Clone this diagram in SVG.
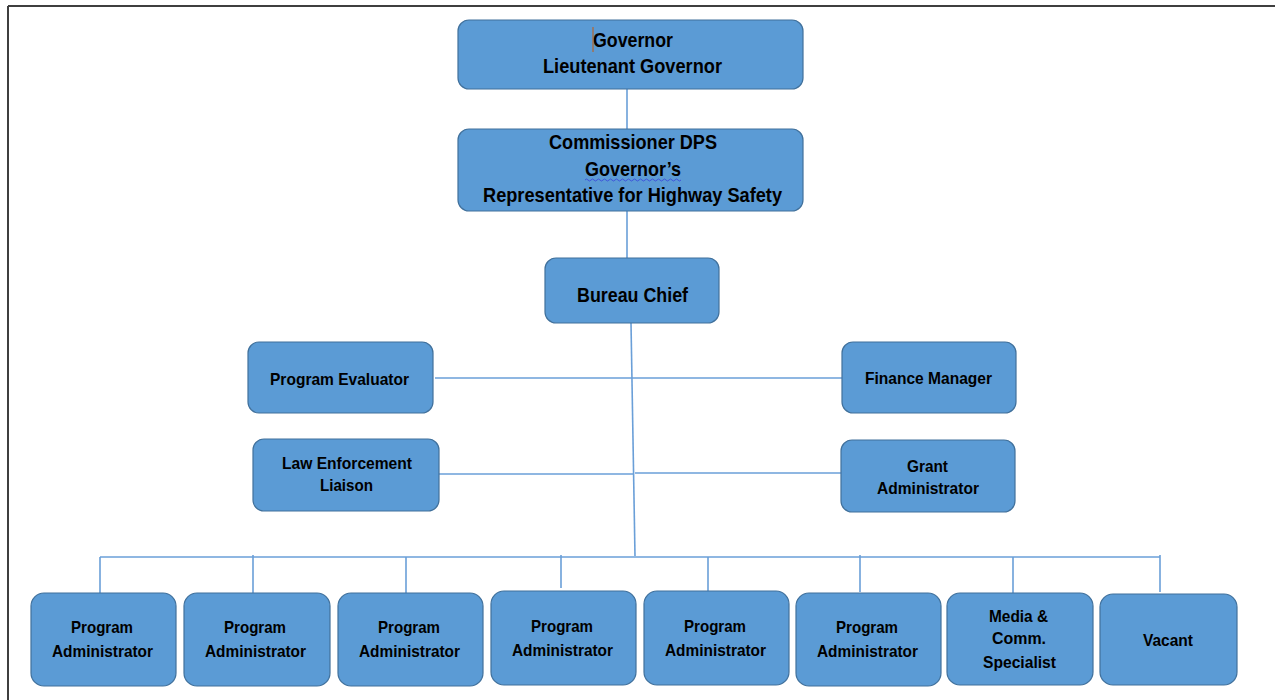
<svg xmlns="http://www.w3.org/2000/svg" width="1275" height="700" viewBox="0 0 1275 700">
<style>
.box{fill:#5B9BD5;stroke:#41719C;stroke-width:1.2}
.t{font-family:"Liberation Sans",Arial,sans-serif;font-weight:bold;fill:#000;text-anchor:middle}
.big{font-size:21px}
.sm{font-size:16.5px}
.c{stroke:#6A9FD8;stroke-width:1.6;fill:none}
</style>
<rect width="1275" height="700" fill="#fff"/>
<g id="frame">
<line x1="8" y1="6" x2="1275" y2="6" stroke="#3f3f3f" stroke-width="2"/>
<line x1="8" y1="6" x2="8" y2="700" stroke="#3f3f3f" stroke-width="2"/>
</g>
<g id="connectors">
<line class="c" x1="627" y1="89" x2="627" y2="129"/>
<line class="c" x1="627" y1="211" x2="627" y2="258"/>
<line class="c" x1="631" y1="323" x2="635" y2="556"/>
<line class="c" x1="435" y1="378" x2="842" y2="378"/>
<line class="c" x1="439" y1="474" x2="633" y2="474"/>
<line class="c" x1="635" y1="473" x2="841" y2="473"/>
<line class="c" x1="100" y1="557" x2="1160" y2="557"/>
<line class="c" x1="100" y1="557" x2="100" y2="593"/>
<line class="c" x1="253" y1="555" x2="253" y2="593"/>
<line class="c" x1="406" y1="557" x2="406" y2="593"/>
<line class="c" x1="561" y1="555" x2="561" y2="588"/>
<line class="c" x1="708" y1="557" x2="708" y2="591"/>
<line class="c" x1="860" y1="555" x2="860" y2="592"/>
<line class="c" x1="1013" y1="557" x2="1013" y2="593"/>
<line class="c" x1="1160" y1="555" x2="1160" y2="592"/>
</g>
<g id="governor">
<rect class="box" x="458" y="20" width="345" height="69" rx="11"/>
<text class="t big" x="633" y="47" textLength="80" lengthAdjust="spacingAndGlyphs">Governor</text>
<text class="t big" x="632.5" y="73" textLength="179" lengthAdjust="spacingAndGlyphs">Lieutenant Governor</text>
<line x1="593" y1="27" x2="593" y2="52" stroke="#C55A11" stroke-width="1"/>
</g>
<g id="commissioner">
<rect class="box" x="458" y="129" width="345" height="82" rx="11"/>
<text class="t big" x="633" y="149" textLength="168" lengthAdjust="spacingAndGlyphs">Commissioner DPS</text>
<text class="t big" x="633" y="176" textLength="96" lengthAdjust="spacingAndGlyphs">Governor’s</text>
<path d="M585 180 q1.5 -2 3 0 t3 0 t3 0 t3 0 t3 0 t3 0 t3 0 t3 0 t3 0 t3 0 t3 0 t3 0 t3 0 t3 0 t3 0 t3 0 t3 0 t3 0 t3 0 t3 0 t3 0 t3 0 t3 0 t3 0 t3 0 t3 0 t3 0 t3 0 t3 0 t3 0 t3 0 t3 0" fill="none" stroke="#3B4CD9" stroke-width="0.9"/>
<text class="t big" x="632.5" y="202" textLength="299" lengthAdjust="spacingAndGlyphs">Representative for Highway Safety</text>
</g>
<g id="bureau-chief">
<rect class="box" x="545" y="258" width="174" height="65" rx="11"/>
<text class="t big" x="632.5" y="302" textLength="111" lengthAdjust="spacingAndGlyphs">Bureau Chief</text>
</g>
<g id="program-evaluator">
<rect class="box" x="248" y="342" width="185" height="71" rx="11"/>
<text class="t sm" x="339.5" y="385" textLength="139" lengthAdjust="spacingAndGlyphs">Program Evaluator</text>
</g>
<g id="finance-manager">
<rect class="box" x="842" y="342" width="174" height="71" rx="11"/>
<text class="t sm" x="928.5" y="384" textLength="127" lengthAdjust="spacingAndGlyphs">Finance Manager</text>
</g>
<g id="law-enforcement-liaison">
<rect class="box" x="253" y="439" width="186" height="72" rx="11"/>
<text class="t sm" x="347" y="469" textLength="130" lengthAdjust="spacingAndGlyphs">Law Enforcement</text>
<text class="t sm" x="346.5" y="491" textLength="53" lengthAdjust="spacingAndGlyphs">Liaison</text>
</g>
<g id="grant-administrator">
<rect class="box" x="841" y="440" width="174" height="72" rx="11"/>
<text class="t sm" x="927.5" y="472" textLength="41" lengthAdjust="spacingAndGlyphs">Grant</text>
<text class="t sm" x="928" y="494" textLength="102" lengthAdjust="spacingAndGlyphs">Administrator</text>
</g>
<g id="pa1">
<rect class="box" x="31" y="593" width="145" height="93" rx="13"/>
<text class="t sm" x="102" y="633" textLength="62" lengthAdjust="spacingAndGlyphs">Program</text>
<text class="t sm" x="102.5" y="657" textLength="101" lengthAdjust="spacingAndGlyphs">Administrator</text>
</g>
<g id="pa2">
<rect class="box" x="184" y="593" width="146" height="93" rx="13"/>
<text class="t sm" x="255" y="633" textLength="62" lengthAdjust="spacingAndGlyphs">Program</text>
<text class="t sm" x="255.5" y="657" textLength="101" lengthAdjust="spacingAndGlyphs">Administrator</text>
</g>
<g id="pa3">
<rect class="box" x="338" y="593" width="145" height="93" rx="13"/>
<text class="t sm" x="409" y="633" textLength="62" lengthAdjust="spacingAndGlyphs">Program</text>
<text class="t sm" x="409.5" y="657" textLength="101" lengthAdjust="spacingAndGlyphs">Administrator</text>
</g>
<g id="pa4">
<rect class="box" x="491" y="591" width="145" height="94" rx="13"/>
<text class="t sm" x="562" y="632" textLength="62" lengthAdjust="spacingAndGlyphs">Program</text>
<text class="t sm" x="562.5" y="656" textLength="101" lengthAdjust="spacingAndGlyphs">Administrator</text>
</g>
<g id="pa5">
<rect class="box" x="644" y="591" width="145" height="94" rx="13"/>
<text class="t sm" x="715" y="632" textLength="62" lengthAdjust="spacingAndGlyphs">Program</text>
<text class="t sm" x="715.5" y="656" textLength="101" lengthAdjust="spacingAndGlyphs">Administrator</text>
</g>
<g id="pa6">
<rect class="box" x="796" y="593" width="145" height="93" rx="13"/>
<text class="t sm" x="867" y="633" textLength="62" lengthAdjust="spacingAndGlyphs">Program</text>
<text class="t sm" x="867.5" y="657" textLength="101" lengthAdjust="spacingAndGlyphs">Administrator</text>
</g>
<g id="media-comm-specialist">
<rect class="box" x="947" y="593" width="146" height="92" rx="13"/>
<text class="t sm" x="1018.5" y="622" textLength="59" lengthAdjust="spacingAndGlyphs">Media &amp;</text>
<text class="t sm" x="1019" y="644" textLength="54" lengthAdjust="spacingAndGlyphs">Comm.</text>
<text class="t sm" x="1019.5" y="668" textLength="73" lengthAdjust="spacingAndGlyphs">Specialist</text>
</g>
<g id="vacant">
<rect class="box" x="1100" y="594" width="137" height="91" rx="13"/>
<text class="t sm" x="1168" y="646" textLength="50" lengthAdjust="spacingAndGlyphs">Vacant</text>
</g>
</svg>
